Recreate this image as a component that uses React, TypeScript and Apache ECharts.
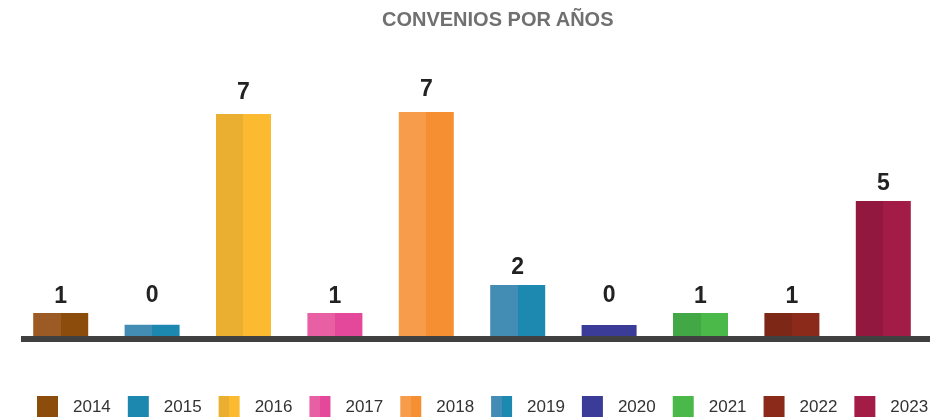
import React, { useEffect, useRef } from "react";
import * as echarts from "echarts";

const titleText = "CONVENIOS POR AÑOS";
const years = ["2014", "2015", "2016", "2017", "2018", "2019", "2020", "2021", "2022", "2023"];
// Displayed counts (labels)
const counts = [1, 0, 7, 1, 7, 2, 0, 1, 1, 5];
// Bar heights (same units as the hidden value axis)
const barLevels = [1.0, 0.49, 9.65, 1.0, 9.74, 2.22, 0.48, 1.0, 1.0, 5.87];

const leftColors = ["#9C5B24", "#438CB4", "#EAAE30", "#E95FA3", "#F79C4A", "#438CB4", "#3B3C98", "#41A845", "#7D2816", "#931840"];
const rightColors = ["#8C4C0C", "#1C88B0", "#FCBA30", "#E3489A", "#F58F31", "#1E89B0", "#3B3C98", "#4AB94A", "#8B2A1A", "#A31C48"];
const legendSolid = [true, true, false, false, false, false, true, true, true, true];

const FONT = "'Liberation Sans', Arial, sans-serif";

export default function App() {
  const ref = useRef<HTMLDivElement>(null);
  useEffect(() => {
    if (!ref.current) return;
    const chart = echarts.init(ref.current, undefined, { renderer: "svg" });
    const series = years.map((y, i) => ({
      type: "bar",
      name: y,
      barWidth: 55,
      barGap: "-100%",
      data: years.map((_, j) => (j === i ? barLevels[i] : "-")),
      itemStyle: {
        color: new echarts.graphic.LinearGradient(0, 0, 1, 0, [
          { offset: 0, color: leftColors[i] },
          { offset: 0.5, color: leftColors[i] },
          { offset: 0.5, color: rightColors[i] },
          { offset: 1, color: rightColors[i] },
        ]),
      },
      label: {
        show: true,
        position: "top",
        distance: counts[i] === 0 ? 19 : counts[i] >= 7 ? 12 : 7,
        formatter: () => String(counts[i]),
        fontSize: 23,
        fontWeight: "bold",
        color: "#222222",
        fontFamily: FONT,
      },
    }));
    chart.setOption({
      animation: false,
      title: {
        text: titleText,
        left: 382,
        top: 9,
        padding: 0,
        textStyle: { fontSize: 20, fontWeight: "bold", color: "#707070", fontFamily: FONT },
      },
      grid: { left: 15, right: 19, top: 60, bottom: 81 },
      xAxis: {
        type: "category",
        data: years,
        axisLine: { show: false },
        axisTick: { show: false },
        axisLabel: { show: false },
      },
      yAxis: { type: "value", min: 0, max: 12, show: false, splitLine: { show: false } },
      graphic: [
        {
          type: "rect",
          left: 21,
          top: 336,
          shape: { width: 909, height: 6 },
          style: { fill: "#404040" },
          z: 0,
        },
      ],
      legend: {
        left: 37,
        top: 396,
        padding: 0,
        icon: "rect",
        itemWidth: 21,
        itemHeight: 21,
        itemGap: 17,
        textStyle: { fontSize: 17, color: "#333333", fontFamily: FONT, padding: [0, 0, 0, 10] },
        data: years.map((y, i) => (legendSolid[i] ? { name: y, itemStyle: { color: rightColors[i] } } : { name: y })),
      },
      series,
    });
    return () => chart.dispose();
  }, []);
  return <div ref={ref} style={{ position: "fixed", left: 0, top: 0, width: 948, height: 417 }} />;
}
